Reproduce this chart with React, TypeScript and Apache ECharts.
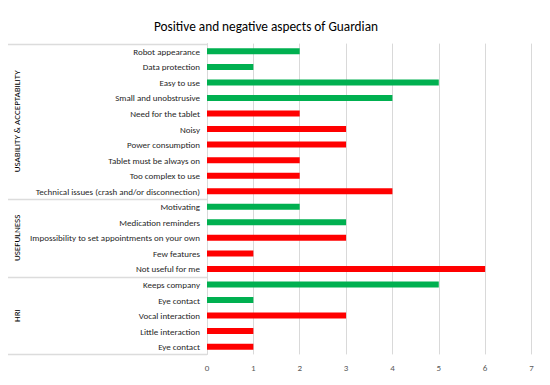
import React, { useEffect, useRef } from "react";
import * as echarts from "echarts";

const titleText = "Positive and negative aspects of Guardian";
const categories = [
  "Robot appearance",
  "Data protection",
  "Easy to use",
  "Small and unobstrusive",
  "Need for the tablet",
  "Noisy",
  "Power consumption",
  "Tablet must be always on",
  "Too complex to use",
  "Technical issues (crash and/or disconnection)",
  "Motivating",
  "Medication reminders",
  "Impossibility to set appointments on your own",
  "Few features",
  "Not useful for me",
  "Keeps company",
  "Eye contact",
  "Vocal interaction",
  "Little interaction",
  "Eye contact",
];
const values = [2, 1, 5, 4, 2, 3, 3, 2, 2, 4, 2, 3, 3, 1, 6, 5, 1, 3, 1, 1];
const positive = [true, true, true, true, false, false, false, false, false, false, true, true, false, false, false, true, true, false, false, false];
const groups = ["USABILITY & ACCEPTABILITY", "USEFULNESS", "HRI"];
const groupSizes = [10, 5, 5];
const xTicks = [0, 1, 2, 3, 4, 5, 6, 7];

const GREEN = "#00B050";
const RED = "#FF0000";
const FONT = "Carlito, Calibri, 'Open Sans', sans-serif";

export default function App() {
  const ref = useRef<HTMLDivElement>(null);
  useEffect(() => {
    if (!ref.current) return;
    const chart = echarts.init(ref.current, undefined, { renderer: "svg" });
    const gridLeft = 207;
    const gridTop = 43.6;
    const gridHeight = 310.8;
    const total = groupSizes.reduce((a, b) => a + b, 0);
    const rowH = gridHeight / total;

    const graphics: any[] = [];
    const bx1 = 4, by1 = 5, bx2 = 544, by2 = 379;
    const frame = [
      [bx1, by1, bx2, by1],
      [bx2, by1, bx2, by2],
      [bx2, by2, bx1, by2],
      [bx1, by2, bx1, by1],
    ];
    frame.forEach(([x1, y1, x2, y2]) => {
      graphics.push({
        type: "line",
        shape: { x1, y1, x2, y2 },
        style: { stroke: "#737373", lineWidth: 2, lineCap: "square" },
        silent: true,
      });
    });
    let acc = 0;
    const boundaries = [0];
    groupSizes.forEach((s, gi) => {
      const center = gridTop + (acc + s / 2) * rowH;
      graphics.push({
        type: "text",
        x: 16,
        y: center,
        rotation: Math.PI / 2,
        style: {
          text: groups[gi],
          fill: "#000000",
          font: `9px ${FONT}`,
          align: "center",
          verticalAlign: "middle",
        },
        silent: true,
      });
      acc += s;
      boundaries.push(acc);
    });
    boundaries.forEach((b) => {
      const y = Math.round(gridTop + b * rowH) + 0.5;
      graphics.push({
        type: "line",
        shape: { x1: 8, y1: y, x2: gridLeft, y2: y },
        style: { stroke: "#dcdcdc", lineWidth: 1.5 },
        silent: true,
      });
    });

    chart.setOption({
      animation: false,
      backgroundColor: "#ffffff",
      title: {
        text: titleText,
        left: 149,
        top: 15,
        textStyle: { fontFamily: FONT, fontSize: 13.3, fontWeight: "normal", color: "#000000" },
      },
      grid: { left: gridLeft, right: 18.5, top: gridTop, height: gridHeight, containLabel: false },
      xAxis: {
        type: "value",
        min: xTicks[0],
        max: xTicks[xTicks.length - 1],
        interval: 1,
        axisLine: { show: false },
        axisTick: { show: false },
        splitLine: { show: true, lineStyle: { color: "#d9d9d9", width: 1 } },
        axisLabel: { color: "#595959", fontFamily: FONT, fontSize: 9, margin: 9 },
      },
      yAxis: {
        type: "category",
        inverse: true,
        data: categories.map((_, i) => String(i)),
        axisLine: { show: true, lineStyle: { color: "#d9d9d9", width: 1 } },
        axisTick: { show: false },
        axisLabel: {
          color: "#262626",
          fontFamily: FONT,
          fontSize: 9,
          margin: 7,
          formatter: (v: string) => categories[Number(v)],
        },
      },
      series: [
        {
          type: "bar",
          barWidth: 6,
          data: values.map((v, i) => ({
            value: v,
            itemStyle: { color: positive[i] ? GREEN : RED },
          })),
        },
      ],
      graphic: graphics,
    });
    return () => chart.dispose();
  }, []);
  return <div ref={ref} style={{ width: 550, height: 385, margin: -8 }} />;
}
